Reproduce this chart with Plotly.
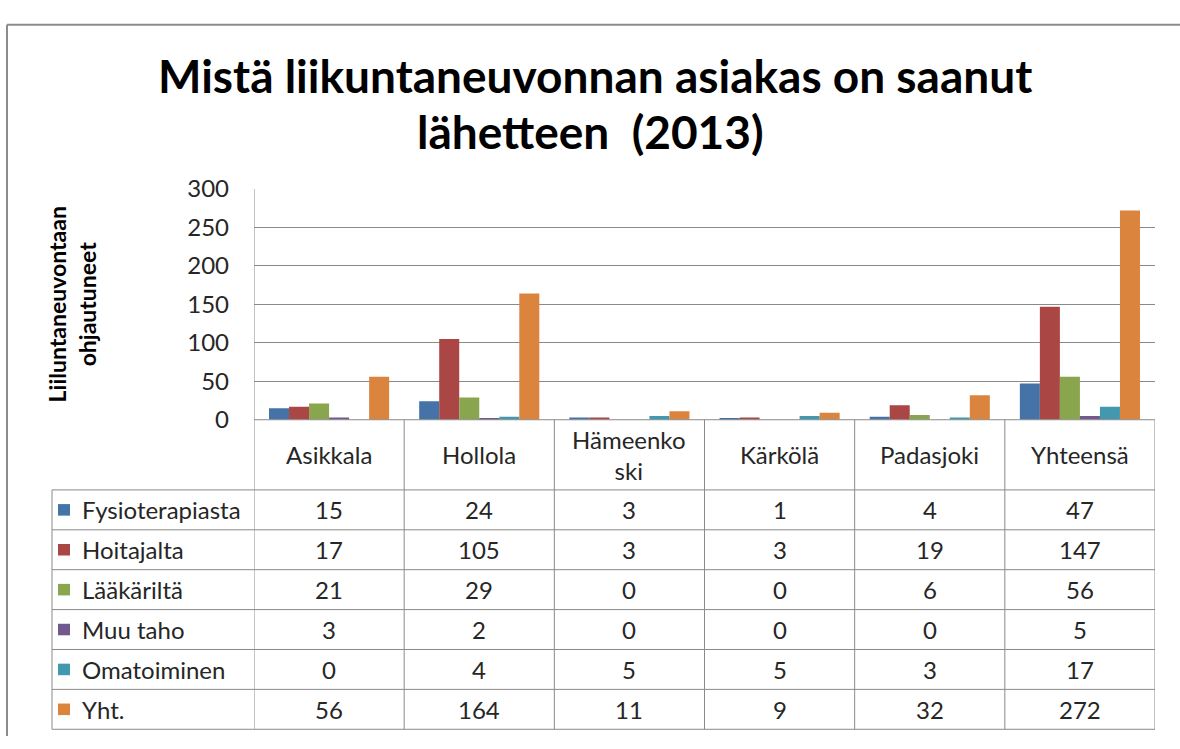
import plotly.graph_objects as go

# ---------------- data ----------------
categories = ["Asikkala", "Hollola", "Hämeenkoski", "Kärkölä", "Padasjoki", "Yhteensä"]
category_labels = ["Asikkala", "Hollola", "Hämeenko<br>ski", "Kärkölä", "Padasjoki", "Yhteensä"]
series_names = ["Fysioterapiasta", "Hoitajalta", "Lääkäriltä", "Muu taho", "Omatoiminen", "Yht."]
fysioterapiasta = [15, 24, 3, 1, 4, 47]
hoitajalta = [17, 105, 3, 3, 19, 147]
laakarilta = [21, 29, 0, 0, 6, 56]
muu_taho = [3, 2, 0, 0, 0, 5]
omatoiminen = [0, 4, 5, 5, 3, 17]
yht = [56, 164, 11, 9, 32, 272]
y_ticks = [0, 50, 100, 150, 200, 250, 300]

series_values = [fysioterapiasta, hoitajalta, laakarilta, muu_taho, omatoiminen, yht]
colors = ["#4572A7", "#AA4643", "#89A54E", "#71588F", "#4198AF", "#DB843D"]

# ---------------- layout helpers ----------------
W, H = 1180, 749
FONT = "Lato"
TXT = "#262626"
LINE = "#8a8a8a"
BODY = 24


def px(x):
    return x / W


def py(y):
    return 1 - y / H


PLOT_TOP, PLOT_BOT = 180, 420
TABLE_LEFT, TABLE_RIGHT = 52, 1155
COL_LEFT = 254
HEAD_BOT = 493
ROW_H = (742 - HEAD_BOT) / len(series_names)

fig = go.Figure()
for name, vals, col in zip(series_names, series_values, colors):
    fig.add_trace(go.Bar(x=categories, y=vals, name=name,
                         marker=dict(color=col, line=dict(width=0))))

shapes = []
# outer chart frame (left and top edges visible)
shapes.append(dict(type="line", xref="paper", yref="paper",
                   x0=px(7), x1=px(7), y0=0, y1=py(9),
                   line=dict(color="#8c8c8c", width=2)))
shapes.append(dict(type="line", xref="paper", yref="paper",
                   x0=px(7), x1=1, y0=py(9), y1=py(9),
                   line=dict(color="#8c8c8c", width=2)))
# left border of plot area + table column lines
shapes.append(dict(type="line", xref="x", yref="paper", x0=-0.5, x1=-0.5,
                   y0=py(PLOT_BOT), y1=py(PLOT_TOP), line=dict(color=LINE, width=1)))
for i in range(len(categories) + 1):
    shapes.append(dict(type="line", xref="x", yref="paper", x0=i - 0.5, x1=i - 0.5,
                       y0=py(742), y1=py(PLOT_BOT), line=dict(color=LINE, width=1)))
# header row top line (axis)
shapes.append(dict(type="line", xref="x", yref="paper", x0=-0.5, x1=len(categories) - 0.5,
                   y0=py(PLOT_BOT), y1=py(PLOT_BOT), line=dict(color=LINE, width=1)))
# data rows horizontal lines
for k in range(len(series_names) + 1):
    yy = HEAD_BOT + k * ROW_H
    shapes.append(dict(type="line", xref="paper", yref="paper", x0=px(TABLE_LEFT), x1=px(TABLE_RIGHT),
                       y0=py(yy), y1=py(yy), line=dict(color=LINE, width=1)))
# left border of table
shapes.append(dict(type="line", xref="paper", yref="paper", x0=px(TABLE_LEFT), x1=px(TABLE_LEFT),
                   y0=py(742), y1=py(HEAD_BOT), line=dict(color=LINE, width=1)))

annotations = []
# title
annotations.append(dict(text="<b>Mistä liikuntaneuvonnan asiakas on saanut</b>", xref="paper", yref="paper",
                        x=px(595), y=py(62), showarrow=False, xanchor="center", yanchor="middle",
                        font=dict(family=FONT, size=46, color="#000000")))
annotations.append(dict(text="<b>lähetteen  (2013)</b>", xref="paper", yref="paper",
                        x=px(590), y=py(120), showarrow=False, xanchor="center", yanchor="middle",
                        font=dict(family=FONT, size=46, color="#000000")))
# y axis title
annotations.append(dict(text="<b>Liiluntaneuvontaan<br>ohjautuneet</b>", xref="paper", yref="paper",
                        x=px(72), y=py(300), showarrow=False, textangle=-90,
                        xanchor="center", yanchor="middle",
                        font=dict(family=FONT, size=23, color="#000000")))
# header row
for cat, lab in zip(categories, category_labels):
    annotations.append(dict(text=lab, xref="x", yref="paper", x=cat, y=py((PLOT_BOT + HEAD_BOT) / 2),
                            showarrow=False, xanchor="center", yanchor="middle",
                            font=dict(family=FONT, size=BODY, color=TXT)))
# data rows
for k, (name, vals, col) in enumerate(zip(series_names, series_values, colors)):
    yc = HEAD_BOT + (k + 0.5) * ROW_H
    shapes.append(dict(type="rect", xref="paper", yref="paper", x0=px(58), x1=px(70),
                       y0=py(yc + 6), y1=py(yc - 6), fillcolor=col, line=dict(width=0)))
    annotations.append(dict(text=name, xref="paper", yref="paper", x=px(80), y=py(yc),
                            showarrow=False, xanchor="left", yanchor="middle",
                            font=dict(family=FONT, size=BODY, color=TXT)))
    for cat, v in zip(categories, vals):
        annotations.append(dict(text=str(v), xref="x", yref="paper", x=cat, y=py(yc),
                                showarrow=False, xanchor="center", yanchor="middle",
                                font=dict(family=FONT, size=BODY, color=TXT)))

fig.update_layout(
    width=W, height=H,
    margin=dict(l=0, r=0, t=0, b=0),
    paper_bgcolor="white", plot_bgcolor="white",
    showlegend=False,
    barmode="group", bargap=0.2, bargroupgap=0,
    shapes=shapes, annotations=annotations,
    xaxis=dict(domain=[px(COL_LEFT), px(TABLE_RIGHT)], range=[-0.5, len(categories) - 0.5],
               showticklabels=False, showgrid=False, zeroline=False, showline=False,
               ticks="", categoryorder="array", categoryarray=categories),
    yaxis=dict(domain=[py(PLOT_BOT), py(PLOT_TOP)], range=[0, 300],
               tickvals=y_ticks, ticktext=[str(t) for t in y_ticks],
               showgrid=True, gridcolor=LINE, gridwidth=1, zeroline=False, showline=False,
               ticks="", ticklabelstandoff=24,
               tickfont=dict(family=FONT, size=BODY, color=TXT)),
)

fig.write_html("out.html")
